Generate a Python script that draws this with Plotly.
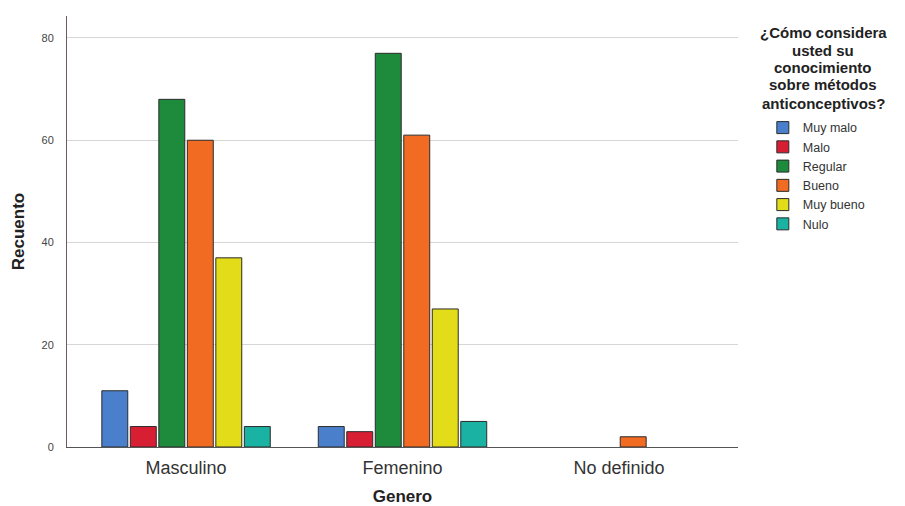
import plotly.graph_objects as go

# Categorias del eje x
generos = ["Masculino", "Femenino", "No definido"]

# Recuento por nivel de conocimiento
muy_malo = [11, 4, None]
malo = [4, 3, None]
regular = [68, 77, None]
bueno = [60, 61, 2]
muy_bueno = [37, 27, None]
nulo = [4, 5, None]

series = [
    ("Muy malo", muy_malo, "#4a7fcb"),
    ("Malo", malo, "#d81e33"),
    ("Regular", regular, "#1e8a3c"),
    ("Bueno", bueno, "#f26b22"),
    ("Muy bueno", muy_bueno, "#e3dc18"),
    ("Nulo", nulo, "#1ab2a3"),
]

titulo_leyenda = ["¿Cómo considera", "usted su", "conocimiento",
                  "sobre métodos", "anticonceptivos?"]

fig = go.Figure()
for nombre, valores, color in series:
    fig.add_trace(go.Bar(
        x=generos, y=valores, name=nombre,
        marker=dict(color=color, line=dict(color="#2b2b2b", width=1)),
    ))

# la pagina tiene ~8px de margen, se compensa aqui
fig.update_layout(
    width=897, height=498,
    margin=dict(l=59, r=167, t=8, b=59),
    paper_bgcolor="white", plot_bgcolor="white",
    barmode="group", bargap=0.21, bargroupgap=0.09,
    font=dict(family="Arial, Liberation Sans, sans-serif", color="#222"),
    legend=dict(
        x=1.037, y=0.775, xanchor="left", yanchor="top",
        font=dict(size=12.5, color="#333"),
        tracegroupgap=0, itemwidth=30,
    ),
    showlegend=True,
)

fig.update_xaxes(
    range=[-0.55, 2.55], automargin=False,
    showline=True, linecolor="#555", linewidth=1,
    ticks="", ticklabelstandoff=4, tickfont=dict(size=18, color="#333"),
    title=dict(text="<b>Genero</b>", font=dict(size=17, color="#222"), standoff=14),
)
fig.update_yaxes(
    range=[0, 84.3], tickvals=[0, 20, 40, 60, 80], automargin=False,
    showline=True, linecolor="#6b5a55", linewidth=1,
    showgrid=True, gridcolor="#d6d6d6", gridwidth=1,
    zeroline=False, ticks="", ticklabelstandoff=10,
    tickfont=dict(size=11, color="#444"),
    title=dict(text="<b>Recuento</b>", font=dict(size=17, color="#222"), standoff=12),
)

# titulo de la leyenda, una linea por anotacion
ys = [0.9606, 0.9188, 0.8794, 0.840, 0.798]
for txt, yy in zip(titulo_leyenda, ys):
    fig.add_annotation(
        xref="paper", yref="paper", x=1.127, y=yy, xanchor="center", yanchor="middle",
        text=f"<b>{txt}</b>", showarrow=False, font=dict(size=15, color="#222"),
    )

fig.write_html("out.html")
